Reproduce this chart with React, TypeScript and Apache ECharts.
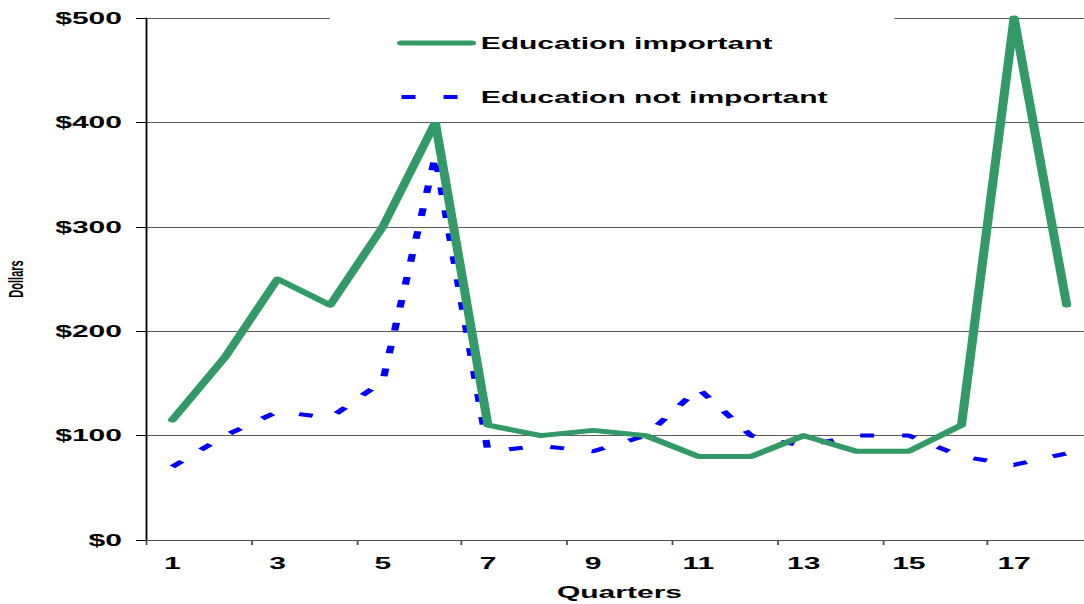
import React, { useEffect, useRef } from 'react';
import * as echarts from 'echarts';

// ---- data ----
const quarters = ['1', '2', '3', '4', '5', '6', '7', '8', '9', '10', '11', '12', '13', '14', '15', '16', '17', '18'];
const educationImportant = [115, 175, 250, 225, 300, 400, 110, 100, 105, 100, 80, 80, 100, 85, 85, 110, 500, 225];
const educationNotImportant = [70, 100, 123, 117, 152, 368, 85, 90, 85, 100, 145, 100, 90, 100, 100, 80, 72, 83];
const yTickLabels = ['$0', '$100', '$200', '$300', '$400', '$500'];
const seriesNames = ['Education important', 'Education not important'];

// The reference is horizontally stretched; draw at a narrower width and stretch.
const S = 1.82;
const F = 16.5;
const px = (x: number) => x / S;
const W = 1084 / S;
const FONT = '"Liberation Sans", Arial, sans-serif';

export default function App() {
  const ref = useRef<HTMLDivElement>(null);
  useEffect(() => {
    const chart = echarts.init(ref.current as HTMLDivElement, null, { renderer: 'svg' });
    chart.setOption({
      animation: false,
      backgroundColor: '#fff',
      textStyle: { fontFamily: FONT },
      grid: {
        left: px(146),
        top: 18,
        width: px(1093 - 146),
        height: 522,
        containLabel: false,
        outerBoundsMode: 'none',
      },
      legend: {
        orient: 'vertical',
        left: px(330),
        top: 18,
        backgroundColor: '#fff',
        padding: [16, px(67), 16, px(67)],
        itemWidth: px(70),
        itemHeight: 18,
        itemGap: 36,
        data: seriesNames,
        itemStyle: { color: 'rgba(0,0,0,0)', borderWidth: 0, opacity: 0 },
        lineStyle: { width: 'inherit' },
        textStyle: {
          fontFamily: FONT,
          fontWeight: 'bold',
          fontSize: F,
          color: '#000',
          lineHeight: 18,
        },
      },
      xAxis: {
        type: 'category',
        data: quarters,
        boundaryGap: true,
        name: 'Quarters',
        nameLocation: 'middle',
        nameGap: 44,
        nameTextStyle: { fontFamily: FONT, fontWeight: 'bold', fontSize: F, color: '#000' },
        axisLine: { show: true, lineStyle: { color: '#505050', width: 1 } },
        axisTick: { show: true, length: 5, interval: 1, lineStyle: { color: '#505050' } },
        axisLabel: {
          interval: 1,
          margin: 15,
          fontFamily: FONT,
          fontWeight: 'bold',
          fontSize: F,
          color: '#000',
        },
        splitLine: { show: false },
      },
      yAxis: {
        type: 'value',
        min: 0,
        max: 500,
        interval: 100,
        name: 'Dollars',
        nameLocation: 'middle',
        nameRotate: 90,
        nameGap: 66,
        nameTextStyle: { fontFamily: FONT, fontWeight: 'bold', fontSize: 11, color: '#000' },
        axisLine: { show: true, lineStyle: { color: '#000', width: 1 } },
        axisTick: { show: true, length: px(10), lineStyle: { color: '#000' } },
        axisLabel: {
          margin: px(24),
          fontFamily: FONT,
          fontWeight: 'bold',
          fontSize: F,
          color: '#000',
          formatter: (v: number) => yTickLabels[Math.round(v / 100)],
        },
        splitLine: { show: true, lineStyle: { color: '#5a5a5a', width: 1 } },
      },
      series: [
        {
          name: seriesNames[0],
          type: 'line',
          data: educationImportant,
          symbol: 'none',
          clip: false,
          lineStyle: { color: '#339966', width: 5, join: 'round', cap: 'round' },
          itemStyle: { color: '#339966' },
          z: 3,
        },
        {
          name: seriesNames[1],
          type: 'line',
          data: educationNotImportant,
          symbol: 'none',
          clip: false,
          lineStyle: { color: '#0000ff', width: 4, type: [px(14), px(28)], cap: 'butt' },
          itemStyle: { color: '#0000ff' },
          z: 2,
        },
      ],
    });
    return () => chart.dispose();
  }, []);
  return (
    <div
      ref={ref}
      style={{
        position: 'fixed',
        left: 0,
        top: 0,
        width: W,
        height: 604,
        transform: `scaleX(${S})`,
        transformOrigin: '0 0',
      }}
    />
  );
}
